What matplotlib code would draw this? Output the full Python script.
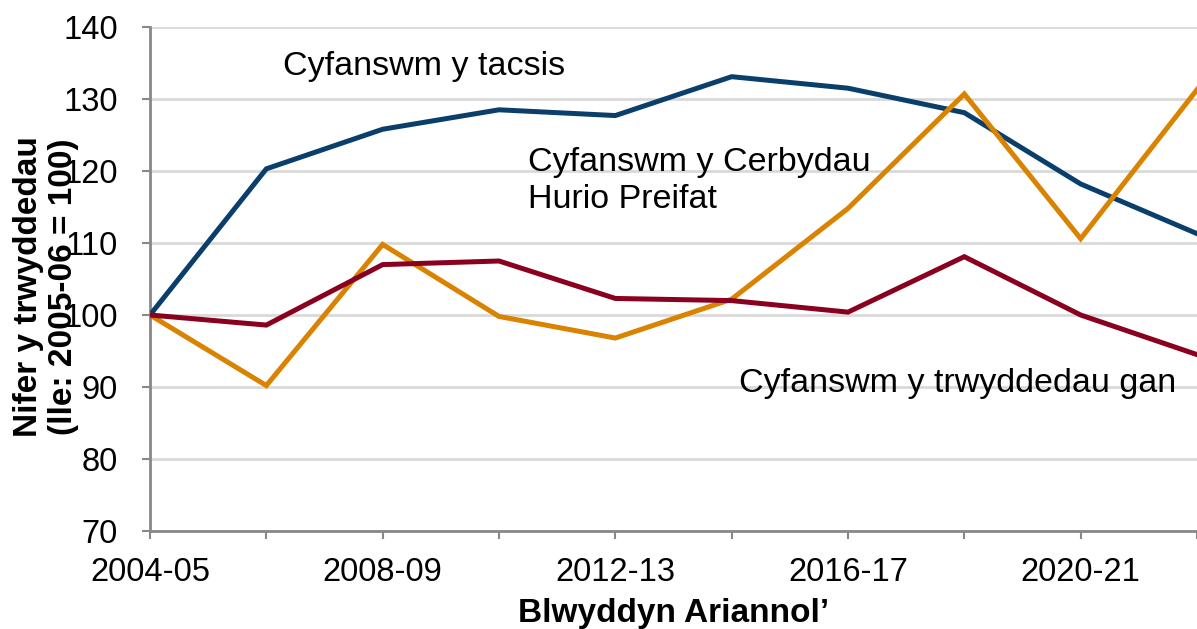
import matplotlib
matplotlib.use("Agg")
import matplotlib.pyplot as plt

plt.rcParams['font.family'] = ['Liberation Sans', 'DejaVu Sans']

years = ["2004-05", "2006-07", "2008-09", "2010-11", "2012-13",
         "2014-15", "2016-17", "2018-19", "2020-21", "2022-23"]
taxis = [100, 120.3, 125.8, 128.5, 127.7, 133.1, 131.5, 128.1, 118.2, 111.3]
phv = [100, 90.2, 109.8, 99.8, 96.8, 102.2, 114.8, 130.7, 110.6, 131.3]
drivers = [100, 98.6, 107.0, 107.5, 102.3, 102.0, 100.4, 108.1, 100.0, 94.5]

yticks = [70, 80, 90, 100, 110, 120, 130, 140]

c_blue = "#0B3F6B"
c_orange = "#D98300"
c_red = "#8A001F"
c_axis = "#888888"
c_grid = "#D9D9D9"

fig = plt.figure(figsize=(11.97, 6.29), dpi=100)
ax = fig.add_axes([150/1197, 1 - 531/629, 1 - 150/1197, (531 - 27)/629])

x = list(range(len(years)))
ax.plot(x, taxis, color=c_blue, lw=3.6, solid_joinstyle='miter', zorder=3)
ax.plot(x, phv, color=c_orange, lw=3.6, solid_joinstyle='miter', zorder=3)
ax.plot(x, drivers, color=c_red, lw=3.6, solid_joinstyle='miter', zorder=3)

ax.set_xlim(0, len(years) - 1)
ax.set_ylim(70, 140)
ax.set_yticks(yticks)
ax.set_yticklabels([str(v) for v in yticks])
ax.set_xticks(x)
ax.set_xticklabels([y if i % 2 == 0 else "" for i, y in enumerate(years)])

ax.grid(axis='y', color=c_grid, lw=2, zorder=0)
ax.set_axisbelow(True)
for s in ['top', 'right']:
    ax.spines[s].set_visible(False)
for s in ['left', 'bottom']:
    ax.spines[s].set_color(c_axis)
    ax.spines[s].set_linewidth(2)

ax.tick_params(axis='y', length=6, width=1.5, color=c_axis, pad=17, labelsize=23.5)
ax.tick_params(axis='x', length=6, width=1.5, color=c_axis, pad=13, labelsize=23.5)

fig.text(674/1197, 1 - 622/629, "Blwyddyn Ariannol\u2019", ha='center', va='baseline',
         fontsize=24, fontweight='bold')

fig.text(46/1197, 1 - 287/629, "Nifer y trwyddedau\n(lle: 2005-06 = 100)",
         rotation=90, ha='center', va='center', fontsize=24, fontweight='bold',
         linespacing=1.2, multialignment='center')

ax.text(1.145, 133.3, "Cyfanswm y tacsis", fontsize=24.5, va='baseline', ha='left')
ax.text(3.245, 120.0, "Cyfanswm y Cerbydau", fontsize=24.5, va='baseline', ha='left')
ax.text(3.245, 114.85, "Hurio Preifat", fontsize=24.5, va='baseline', ha='left')
ax.text(5.06, 89.3, "Cyfanswm y trwyddedau gan", fontsize=24.5, va='baseline', ha='left')

fig.savefig("out.png", dpi=100)
